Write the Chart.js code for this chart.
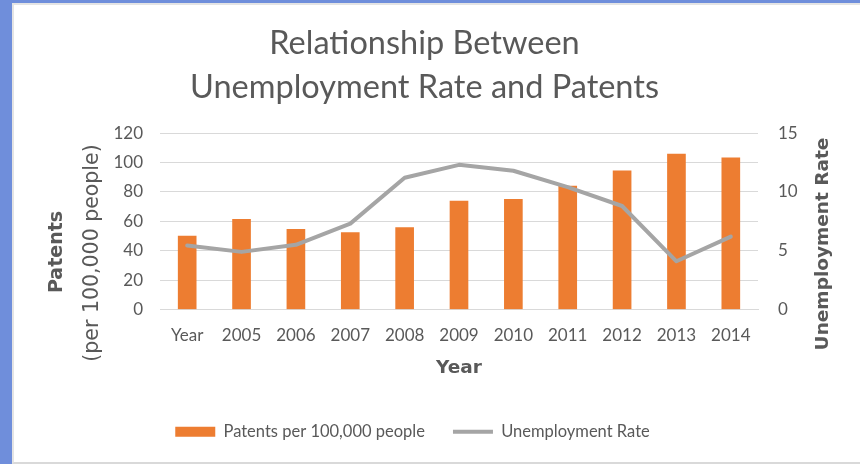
<!DOCTYPE html>
<html>
<head>
<meta charset="utf-8">
<title>Unemployment Rate and Patents</title>
<script src="https://cdn.jsdelivr.net/npm/chart.js@4.4.1/dist/chart.umd.min.js"></script>
<style>
  html, body { margin: 0; padding: 0; }
  body { width: 860px; height: 464px; background: #6f8edb; position: relative; overflow: hidden; }
  #sheet { position: absolute; left: 12px; top: 3px; width: 846px; height: 457px; background: #fff;
           border-left: 2px solid #e4e4e4; border-top: 2px solid #e4e4e4; border-bottom: 2px solid #d9d9d9; }
  #ch1 { position: absolute; left: 0; top: 0; }
</style>
</head>
<body>
<div id="sheet"></div>
<canvas id="ch1" width="860" height="464"></canvas>
<script>
// categories + both series
const years = ['Year', '2005', '2006', '2007', '2008', '2009', '2010', '2011', '2012', '2013', '2014'];
const patents = [50, 61.4, 54.5, 52.3, 55.7, 73.8, 75, 84, 94.3, 105.7, 103.2];
const unemployment = [5.45, 4.9, 5.5, 7.3, 11.2, 12.3, 11.8, 10.4, 8.8, 4.1, 6.2];
const patentTicks = [0, 20, 40, 60, 80, 100, 120];
const rateTicks = [0, 5, 10, 15];

const grey = '#595959';
const FONT = 'Lato, "Open Sans", sans-serif';
const BOLD = '"DejaVu Sans", Verdana, sans-serif';

// axis titles are drawn by hand so the left one can mix bold / normal lines
// and the right one reads bottom-to-top like the left one
function vText(ctx, str, x, y, font) {
  ctx.save();
  ctx.translate(x, y);
  ctx.rotate(-Math.PI / 2);
  ctx.font = font;
  ctx.fillText(str, 0, 0);
  ctx.restore();
}

const axisTitles = {
  id: 'axisTitles',
  afterLayout(chart) {
    // legend sits a bit left of the title's centre
    chart.legend.left -= 12;
    chart.legend.right -= 12;
  },
  afterDraw(chart) {
    const ctx = chart.ctx;
    const a = chart.chartArea;
    ctx.save();
    ctx.fillStyle = grey;
    ctx.textAlign = 'center';
    ctx.textBaseline = 'middle';

    vText(ctx, 'Patents', 57, 252, 'bold 19px ' + BOLD);
    vText(ctx, '(per 100,000 people)', 93, 253, '20.5px ' + BOLD);
    vText(ctx, 'Unemployment Rate', 823, 244, 'bold 18.5px ' + BOLD);

    ctx.font = 'bold 18.5px ' + BOLD;
    ctx.fillText('Year', (a.left + a.right) / 2, 368);
    ctx.restore();
  }
};

const ctx = document.getElementById('ch1').getContext('2d');

const chart = new Chart(ctx, {
  type: 'bar',
  data: {
    labels: years,
    datasets: [{
      type: 'bar',
      label: 'Patents per 100,000 people',
      data: patents,
      yAxisID: 'y',
      backgroundColor: '#ed7d31',
      borderWidth: 0,
      barThickness: 18,
      pointStyle: 'rect',
      order: 2
    }, {
      type: 'line',
      label: 'Unemployment Rate',
      data: unemployment,
      yAxisID: 'y1',
      borderColor: '#a5a5a5',
      backgroundColor: '#a5a5a5',
      borderWidth: 4,
      borderJoinStyle: 'round',
      borderCapStyle: 'round',
      pointRadius: 0,
      tension: 0,
      pointStyle: 'line',
      order: 1
    }]
  },
  options: {
    responsive: false,
    animation: false,
    layout: { padding: { left: 14, right: 25, top: 0, bottom: 14 } },
    plugins: {
      tooltip: { enabled: false },
      title: {
        display: true,
        text: ['Relationship Between', 'Unemployment Rate and Patents'],
        color: grey,
        font: { family: FONT, size: 32.5, weight: 'normal', lineHeight: 1.34 },
        padding: { top: 22, bottom: 24 }
      },
      legend: {
        position: 'bottom',
        labels: {
          usePointStyle: true,
          pointStyleWidth: 40,
          boxHeight: 10,
          padding: 28,
          color: grey,
          font: { family: FONT, size: 16.5 },
          sort: (a, b) => a.datasetIndex - b.datasetIndex
        }
      }
    },
    scales: {
      x: {
        grid: { display: false, drawTicks: false },
        border: { display: true, color: '#d9d9d9', width: 1 },
        ticks: { color: grey, font: { family: FONT, size: 17 }, padding: 16, maxRotation: 0, autoSkip: false },
        afterFit(scale) { scale.height = 86; }
      },
      y: {
        position: 'left',
        min: 0,
        max: 120,
        afterBuildTicks(scale) { scale.ticks = patentTicks.map(v => ({ value: v })); },
        grid: { color: '#d9d9d9', lineWidth: 1, drawTicks: false },
        border: { display: false },
        ticks: { color: grey, font: { family: FONT, size: 17 }, padding: 17 },
        afterFit(scale) { scale.width = 146; }
      },
      y1: {
        position: 'right',
        min: 0,
        max: 15,
        afterBuildTicks(scale) { scale.ticks = rateTicks.map(v => ({ value: v })); },
        grid: { display: false, drawTicks: false },
        border: { display: false },
        ticks: { color: grey, font: { family: FONT, size: 17 }, padding: 20 },
        afterFit(scale) { scale.width = 77; }
      }
    }
  },
  plugins: [axisTitles]
});
</script>
</body>
</html>
